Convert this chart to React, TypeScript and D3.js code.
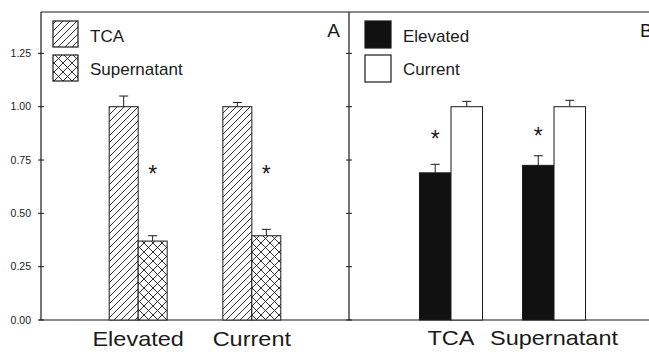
import React from 'react';
import * as d3 from 'd3';

// panel A: fraction by site, TCA vs supernatant
const groupsA = ['Elevated', 'Current'];
const seriesA = ['TCA', 'Supernatant'];
const tcaValues = [1.0, 1.0];
const tcaErrors = [0.05, 0.02];
const supValues = [0.37, 0.395];
const supErrors = [0.025, 0.03];
const starsA = [0.71, 0.71];

// panel B: fraction by fraction type, elevated vs current
const groupsB = ['TCA', 'Supernatant'];
const seriesB = ['Elevated', 'Current'];
const elevatedValues = [0.69, 0.725];
const elevatedErrors = [0.04, 0.045];
const currentValues = [1.0, 1.0];
const currentErrors = [0.025, 0.03];
const starsB = [0.872, 0.89];

const yTicks = [0, 0.25, 0.5, 0.75, 1.0, 1.25];

const W = 649;
const H = 352;
const FONT = 'Liberation Sans, Arial, sans-serif';
const INK = '#1a1a1a';

export default function App() {
  const y = d3.scaleLinear().domain([0, 1.444]).range([320, 12]);

  const xA = d3.scaleBand().domain(groupsA).range([41, 349]).paddingInner(0.49).paddingOuter(0.6);
  const xAi = d3.scaleBand().domain(seriesA).range([0, xA.bandwidth()]);
  const xB = d3.scaleBand().domain(groupsB).range([349, 656]).paddingInner(0.388).paddingOuter(0.684);
  const xBi = d3.scaleBand().domain(seriesB).range([0, xB.bandwidth()]);

  const barsA = groupsA.flatMap((g, i) => [
    { g, s: 'TCA', v: tcaValues[i], e: tcaErrors[i], fill: 'url(#hatch)' },
    { g, s: 'Supernatant', v: supValues[i], e: supErrors[i], fill: 'url(#cross)' },
  ]);
  const barsB = groupsB.flatMap((g, i) => [
    { g, s: 'Elevated', v: elevatedValues[i], e: elevatedErrors[i], fill: '#111' },
    { g, s: 'Current', v: currentValues[i], e: currentErrors[i], fill: '#fff' },
  ]);

  const renderBars = (bars, outer, inner) =>
    bars.map((d, i) => {
      const x0 = (outer(d.g) as number) + (inner(d.s) as number);
      const w = inner.bandwidth();
      const cx = x0 + w / 2;
      return (
        <g key={i}>
          <line x1={cx} x2={cx} y1={y(d.v)} y2={y(d.v + d.e)} stroke={INK} strokeWidth={1} />
          <line x1={cx - 4.5} x2={cx + 4.5} y1={y(d.v + d.e)} y2={y(d.v + d.e)} stroke={INK} strokeWidth={1} />
          <rect x={x0} y={y(d.v)} width={w} height={y(0) - y(d.v)} fill={d.fill} stroke={INK} strokeWidth={1} />
        </g>
      );
    });

  const star = (x: number, v: number, key: string) => (
    <text key={key} x={x} y={y(v)} dy="0.58em" textAnchor="middle" fontSize={23} fontFamily={FONT} fill={INK}>*</text>
  );

  const axisTicks = (x: number, withLabels: boolean) =>
    yTicks.map(t => (
      <g key={t} transform={`translate(${x},${y(t)})`}>
        <line x1={-3} x2={3} stroke={INK} strokeWidth={1} />
        {withLabels && (
          <text x={-10} dy="0.35em" textAnchor="end" fontSize={10.5} fontFamily={FONT} fill={INK}>
            {t.toFixed(2)}
          </text>
        )}
      </g>
    ));

  // the scanned labels are a bit wider than the font, so stretch them a little
  const xLabel = (text: string, cx: number, yy: number) => (
    <text key={text} transform={`translate(${cx},${yy}) scale(1.12,1)`} textAnchor="middle" fontSize={21} fontFamily={FONT} fill={INK}>
      {text}
    </text>
  );

  return (
    <svg width={W} height={H} style={{ position: 'absolute', left: 0, top: 0, background: '#fff' }}>
      <defs>
        <pattern id="hatch" patternUnits="userSpaceOnUse" width={7} height={7}>
          <rect width={7} height={7} fill="#fff" />
          <path d="M0,7 L7,0 M-1,1 L1,-1 M6,8 L8,6" stroke={INK} strokeWidth={0.9} />
        </pattern>
        <pattern id="cross" patternUnits="userSpaceOnUse" width={9} height={9}>
          <rect width={9} height={9} fill="#fff" />
          <path d="M0,9 L9,0 M-1,1 L1,-1 M8,10 L10,8 M0,0 L9,9 M-1,8 L1,10 M8,-1 L10,1" stroke={INK} strokeWidth={0.9} />
        </pattern>
      </defs>

      {/* frame */}
      <line x1={41} x2={W} y1={12} y2={12} stroke={INK} strokeWidth={1.2} />
      <line x1={39} x2={W} y1={y(0)} y2={y(0)} stroke={INK} strokeWidth={1.2} />
      <line x1={41} x2={41} y1={12} y2={y(0)} stroke={INK} strokeWidth={1.2} />
      <line x1={349} x2={349} y1={12} y2={y(0)} stroke={INK} strokeWidth={1.2} />
      {axisTicks(41, true)}
      {axisTicks(349, false)}

      {/* panel A */}
      {renderBars(barsA, xA, xAi)}
      {groupsA.map((g, i) =>
        star((xA(g) as number) + (xAi('Supernatant') as number) + xAi.bandwidth() / 2, starsA[i], 'sa' + i)
      )}
      {groupsA.map(g => xLabel(g, (xA(g) as number) + xA.bandwidth() / 2, 346))}
      <text x={340} y={37} textAnchor="end" fontSize={19} fontFamily={FONT} fill={INK}>A</text>

      <rect x={53} y={21} width={25} height={26} fill="url(#hatch)" stroke={INK} strokeWidth={1.2} />
      <rect x={53} y={55} width={25} height={26} fill="url(#cross)" stroke={INK} strokeWidth={1.2} />
      <text x={90} y={42} fontSize={17} fontFamily={FONT} fill={INK}>{seriesA[0]}</text>
      <text x={90} y={75} fontSize={17} fontFamily={FONT} fill={INK}>{seriesA[1]}</text>

      {/* panel B */}
      {renderBars(barsB, xB, xBi)}
      {groupsB.map((g, i) =>
        star((xB(g) as number) + (xBi('Elevated') as number) + xBi.bandwidth() / 2, starsB[i], 'sb' + i)
      )}
      {groupsB.map(g => xLabel(g, (xB(g) as number) + xB.bandwidth() / 2, 345))}
      <text x={640} y={37} fontSize={19} fontFamily={FONT} fill={INK}>B</text>

      <rect x={365} y={21} width={26} height={27} fill="#111" stroke={INK} strokeWidth={1.2} />
      <rect x={365} y={55} width={26} height={27} fill="#fff" stroke={INK} strokeWidth={1.2} />
      <text x={403} y={42} fontSize={17} fontFamily={FONT} fill={INK}>{seriesB[0]}</text>
      <text x={403} y={75} fontSize={17} fontFamily={FONT} fill={INK}>{seriesB[1]}</text>
    </svg>
  );
}
